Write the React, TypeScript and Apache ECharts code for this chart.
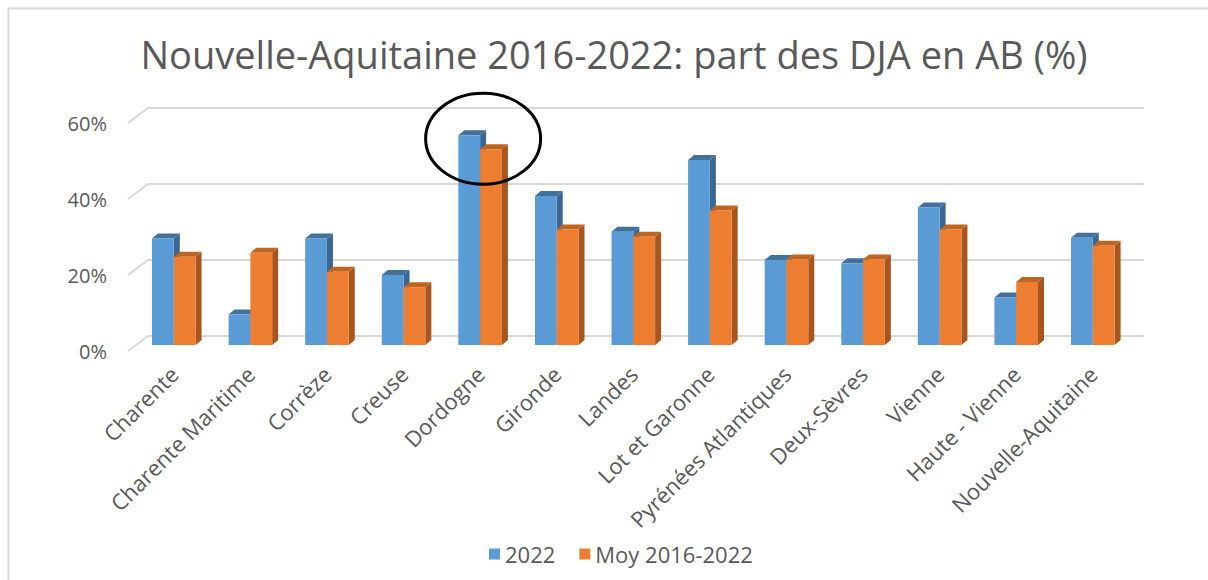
import React, { useEffect, useRef } from "react";
import * as echarts from "echarts";

const titleText = "Nouvelle-Aquitaine 2016-2022: part des DJA en AB (%)";
const categories = [
  "Charente",
  "Charente Maritime",
  "Corrèze",
  "Creuse",
  "Dordogne",
  "Gironde",
  "Landes",
  "Lot et Garonne",
  "Pyrénées Atlantiques",
  "Deux-Sèvres",
  "Vienne",
  "Haute - Vienne",
  "Nouvelle-Aquitaine",
];
const values2022 = [28, 8, 28, 18.4, 55.2, 39.2, 29.8, 48.7, 22.4, 21.5, 36.2, 12.5, 28.2];
const valuesMoy = [23.2, 24.3, 19.3, 15.2, 51.5, 30.4, 28.5, 35.4, 22.5, 22.5, 30.4, 16.6, 26.1];
const seriesNames = ["2022", "Moy 2016-2022"];
const yTicks = [0, 20, 40, 60];
const highlightIndex = 4;
const highlightValue = 54.3;

const FONT = "Open Sans";
const GRAY = "#595959";
const palettes = [
  { front: "#5B9BD5", top: "#41719C", side: "#3A6892" },
  { front: "#ED7D31", top: "#C0651F", side: "#A85620" },
];

function barSeries(name: string, values: number[], s: number) {
  const pal = palettes[s];
  return {
    type: "custom",
    name,
    xAxisIndex: 1,
    yAxisIndex: 1,
    z: 3,
    itemStyle: { color: pal.front },
    encode: { x: 0, y: 1 },
    data: values.map((v, i) => [i, v]),
    renderItem: (params: any, api: any) => {
      const idx = api.value(0);
      const val = api.value(1);
      const base = api.coord([idx, 0]);
      const top = api.coord([idx, val]);
      const band = api.size([1, 0])[0];
      const bw = band * 0.2846;
      const x0 = base[0] - bw + s * bw;
      const x1 = x0 + bw;
      const dx = 6;
      const dy = -5;
      const yt = top[1];
      const yb = base[1];
      return {
        type: "group",
        children: [
          {
            type: "polygon",
            shape: { points: [[x1, yt], [x1 + dx, yt + dy], [x1 + dx, yb + dy], [x1, yb]] },
            style: { fill: pal.side },
          },
          {
            type: "polygon",
            shape: { points: [[x0, yt], [x1, yt], [x1 + dx, yt + dy], [x0 + dx, yt + dy]] },
            style: { fill: pal.top },
          },
          {
            type: "rect",
            shape: { x: x0, y: yt, width: bw, height: yb - yt },
            style: { fill: pal.front },
          },
        ],
      };
    },
  };
}

export default function App() {
  const ref = useRef<HTMLDivElement>(null);
  useEffect(() => {
    if (!ref.current) return;
    const chart = echarts.init(ref.current, null, { renderer: "svg" });
    const option: any = {
      animation: false,
      textStyle: { fontFamily: FONT },
      title: {
        text: titleText,
        left: 609,
        textAlign: "center",
        top: 30,
        textStyle: { fontSize: 38, fontWeight: "normal", color: GRAY, fontFamily: FONT },
      },
      legend: {
        left: 484,
        top: 538,
        itemWidth: 11,
        itemHeight: 11,
        itemGap: 24,
        icon: "rect",
        data: seriesNames,
        textStyle: { fontSize: 22, color: GRAY, fontFamily: FONT },
      },
      grid: [
        { left: 128, top: 123, width: 995.6, height: 228 },
        { left: 135.5, top: 117, width: 995.6, height: 228 },
      ],
      xAxis: [
        { type: "category", gridIndex: 0, data: categories, show: false },
        {
          type: "category",
          gridIndex: 1,
          data: categories,
          axisLine: { show: false },
          axisTick: { show: false },
          splitLine: { show: false },
          axisLabel: { rotate: 45, interval: 0, margin: 25, fontSize: 22, color: GRAY, fontFamily: FONT },
        },
      ],
      yAxis: [
        {
          type: "value",
          gridIndex: 0,
          min: 0,
          max: 60,
          interval: 20,
          axisLabel: { formatter: "{value}%", margin: 21, fontSize: 20, color: GRAY, fontFamily: FONT },
          splitLine: { show: false },
          axisLine: { show: false },
          axisTick: { show: false },
        },
        { type: "value", gridIndex: 1, min: 0, max: 60, interval: 20, show: false, splitLine: { show: false } },
      ],
      series: [
        {
          type: "custom",
          name: "_grid",
          xAxisIndex: 0,
          yAxisIndex: 0,
          z: 1,
          silent: true,
          data: yTicks.map((v) => [0, v]),
          encode: { x: 0, y: 1 },
          renderItem: (params: any, api: any) => {
            const y = api.coord([0, api.value(1)])[1];
            const cs = params.coordSys;
            const xa = cs.x;
            const xb = cs.x + cs.width;
            return {
              type: "polyline",
              shape: { points: [[xa, y], [xa + 20, y - 15], [xb + 20, y - 15]] },
              style: { stroke: "#d9d9d9", lineWidth: 2, fill: null },
            };
          },
        },
        barSeries(seriesNames[0], values2022, 0),
        barSeries(seriesNames[1], valuesMoy, 1),
      ],
    };
    chart.setOption(option);
    const p = chart.convertToPixel({ gridIndex: 1 } as any, [highlightIndex, highlightValue]) as number[];
    chart.setOption({
      graphic: [
        { type: "line", shape: { x1: 8, y1: 8.5, x2: 1208, y2: 8.5 }, style: { stroke: "#d9d9d9", lineWidth: 2 } },
        { type: "line", shape: { x1: 8.5, y1: 8, x2: 8.5, y2: 580 }, style: { stroke: "#d9d9d9", lineWidth: 2 } },
        {
          type: "ellipse",
          z: 100,
          shape: { cx: p[0] + 3, cy: p[1], rx: 57.5, ry: 45.5 },
          style: { stroke: "#000", lineWidth: 3, fill: null },
        },
      ],
    });
    return () => chart.dispose();
  }, []);
  return (
    <div
      ref={ref}
      style={{ position: "fixed", left: 0, top: 0, width: 1208, height: 580, background: "#fff" }}
    />
  );
}
